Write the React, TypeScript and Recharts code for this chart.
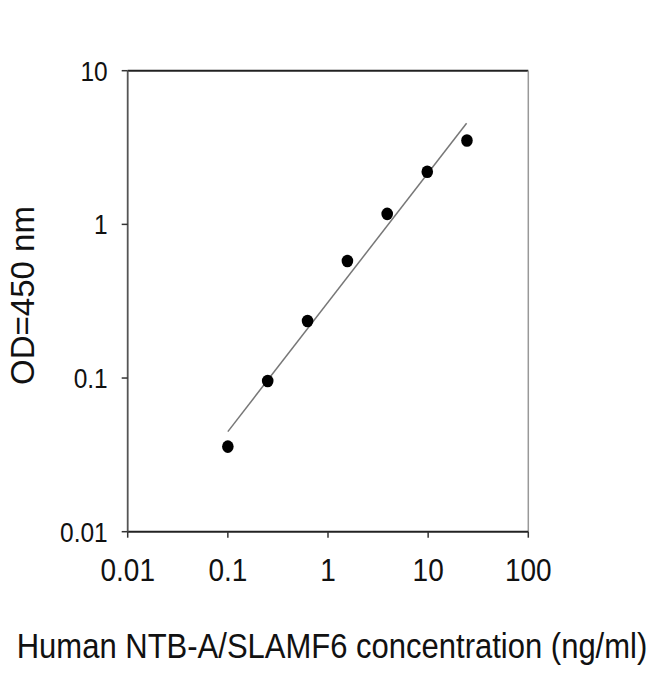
import React from "react";
import {
  ScatterChart,
  Scatter,
  XAxis,
  YAxis,
} from "recharts";

// standard curve, 2.5-fold dilutions
const concentrations = [0.1, 0.25, 0.625, 1.5625, 3.9, 9.8, 24.4];
const odValues = [0.0358, 0.0957, 0.235, 0.578, 1.17, 2.2, 3.51];

// fitted line end points
const fitX = [0.1, 24.2];
const fitY = [0.0448, 4.55];

const xTicks = [0.01, 0.1, 1, 10, 100];
const yTicks = [0.01, 0.1, 1, 10];

const points = concentrations.map((x, i) => ({ x, y: odValues[i] }));
const fitLine = fitX.map((x, i) => ({ x, y: fitY[i] }));

const font = "'Liberation Sans', Arial, sans-serif";
const stretch = 1.14; // the original picture is a bit taller than wide

const Dot = (props: any) => {
  const { cx, cy } = props;
  if (cx == null || cy == null) return null;
  return <ellipse cx={cx} cy={cy} rx={5.8} ry={6.3} fill="#000" />;
};

const XTick = (props: any) => {
  const { x, y, payload } = props;
  return (
    <g transform={`translate(${x},${y}) scale(1,${stretch})`}>
      <text textAnchor="middle" dy="0.71em" fontSize={28} fill="#111" fontFamily={font}>
        {payload.value}
      </text>
    </g>
  );
};

const YTick = (props: any) => {
  const { x, y, payload } = props;
  return (
    <g transform={`translate(${x},${y}) scale(1,${stretch})`}>
      <text textAnchor="end" dy="0.355em" fontSize={24.5} fill="#111" fontFamily={font}>
        {payload.value}
      </text>
    </g>
  );
};

export default function App() {
  return (
    <div
      style={{
        position: "absolute",
        left: 0,
        top: 0,
        width: 650,
        height: 674,
        background: "#fff",
        fontFamily: font,
      }}
    >
      <ScatterChart
        width={650}
        height={674}
        margin={{ top: 69.7, right: 120.7, bottom: 82.3, left: 27.7 }}
      >
        <XAxis
          xAxisId="top"
          orientation="top"
          type="number"
          dataKey="x"
          scale="log"
          domain={[0.01, 100]}
          ticks={xTicks}
          tick={false}
          tickLine={false}
          axisLine={{ stroke: "#222", strokeWidth: 2 }}
          height={1}
        />
        <YAxis
          yAxisId="right"
          orientation="right"
          type="number"
          dataKey="y"
          scale="log"
          domain={[0.01, 10]}
          ticks={yTicks}
          tick={false}
          tickLine={false}
          axisLine={{ stroke: "#999", strokeWidth: 1.5 }}
          width={1}
        />
        <XAxis
          type="number"
          dataKey="x"
          scale="log"
          domain={[0.01, 100]}
          ticks={xTicks}
          allowDataOverflow
          height={60}
          tickSize={6}
          tickMargin={21}
          tickLine={{ stroke: "#333", strokeWidth: 1.5 }}
          axisLine={{ stroke: "#222", strokeWidth: 2 }}
          tick={<XTick />}
        />
        <YAxis
          type="number"
          dataKey="y"
          scale="log"
          domain={[0.01, 10]}
          ticks={yTicks}
          allowDataOverflow
          width={100}
          tickSize={6}
          tickMargin={14}
          tickLine={{ stroke: "#333", strokeWidth: 1.5 }}
          axisLine={{ stroke: "#555", strokeWidth: 1.8 }}
          tick={<YTick />}
        />
        <Scatter
          data={fitLine}
          line={{ stroke: "#777", strokeWidth: 1.5 }}
          shape={() => null}
          isAnimationActive={false}
        />
        <Scatter data={points} shape={<Dot />} isAnimationActive={false} />
      </ScatterChart>

      <div
        style={{
          position: "absolute",
          left: -128,
          top: 278.5,
          width: 300,
          lineHeight: "33px",
          fontSize: 33,
          textAlign: "center",
          color: "#111",
          transform: "rotate(-90deg)",
        }}
      >
        OD=450 nm
      </div>
      <div
        style={{
          position: "absolute",
          left: 7,
          top: 631,
          width: 650,
          lineHeight: "31px",
          fontSize: 31,
          textAlign: "center",
          color: "#111",
          transform: `scaleY(${stretch})`,
        }}
      >
        Human NTB-A/SLAMF6 concentration (ng/ml)
      </div>
    </div>
  );
}
